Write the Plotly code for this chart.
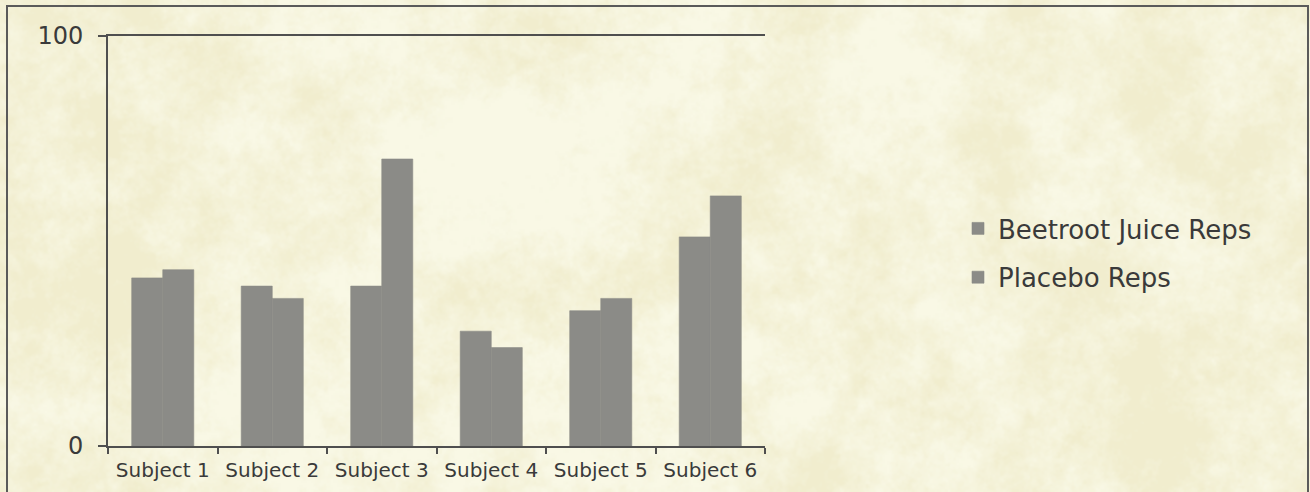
import base64
import struct
import zlib

import numpy as np
import plotly.graph_objects as go

# Repetitions per subject
subjects = ["Subject 1", "Subject 2", "Subject 3", "Subject 4", "Subject 5", "Subject 6"]
beetroot_reps = [41, 39, 39, 28, 33, 51]
placebo_reps = [43, 36, 70, 24, 36, 61]

W, H = 1310, 492
PLOT_L, PLOT_R, PLOT_T, PLOT_B = 108, 765, 36, 446
PW, PH = PLOT_R - PLOT_L, PLOT_B - PLOT_T

BAR_GREY = "#8b8b87"
AXIS_GREY = "#4f4f4f"
TEXT_GREY = "#3a3a3a"
FONT = "DejaVu Sans"


def png_data_uri(rgb):
    """Encode an HxWx3 uint8 array as a PNG data URI."""
    h, w, _ = rgb.shape
    raw = b"".join(b"\x00" + rgb[r].tobytes() for r in range(h))

    def chunk(tag, data):
        body = tag + data
        return struct.pack(">I", len(data)) + body + struct.pack(">I", zlib.crc32(body) & 0xFFFFFFFF)

    png = (b"\x89PNG\r\n\x1a\n"
           + chunk(b"IHDR", struct.pack(">IIBBBBB", w, h, 8, 2, 0, 0, 0))
           + chunk(b"IDAT", zlib.compress(raw, 9))
           + chunk(b"IEND", b""))
    return "data:image/png;base64," + base64.b64encode(png).decode()


def parchment(w, h, seed=11):
    """Soft, faintly mottled cream paper background."""
    rng = np.random.default_rng(seed)
    noise = rng.standard_normal((h, w))
    fy = np.fft.fftfreq(h)[:, None]
    fx = np.fft.fftfreq(w)[None, :]
    f = np.sqrt(fx ** 2 + fy ** 2)
    f[0, 0] = 1.0
    spec = np.fft.fft2(noise) / f ** 1.3
    spec[0, 0] = 0
    n = np.real(np.fft.ifft2(spec))
    n = (n - n.mean()) / n.std()
    base = np.array([246, 244, 220], dtype=float)
    tan = np.array([-2.5, -3.5, -7.5], dtype=float)
    img = base[None, None, :] + np.clip(n, -1.2, 1.8)[..., None] * tan[None, None, :]
    return np.clip(img, 0, 255).astype(np.uint8)


bar_style = dict(color=BAR_GREY, line=dict(color=BAR_GREY, width=0.6))

fig = go.Figure()
fig.add_trace(go.Bar(name="Beetroot Juice Reps", x=subjects, y=beetroot_reps,
                     marker=bar_style, legendgroup="a"))
fig.add_trace(go.Bar(name="Placebo Reps", x=subjects, y=placebo_reps,
                     marker=bar_style, legendgroup="b"))

# paper background texture, stretched over the whole figure
fig.add_layout_image(dict(
    source=png_data_uri(parchment(W // 2, H // 2)),
    xref="paper", yref="paper",
    x=-PLOT_L / PW, y=1 + PLOT_T / PH,
    sizex=W / PW, sizey=H / PH,
    xanchor="left", yanchor="top",
    sizing="stretch", layer="below",
))

# outer chart border
fig.add_shape(type="rect", xref="paper", yref="paper",
              x0=(7 - PLOT_L) / PW, x1=(1308 - PLOT_L) / PW,
              y0=(PLOT_B - 520) / PH, y1=(PLOT_B - 6) / PH,
              line=dict(color="#5a5a5a", width=2), layer="above")

fig.update_layout(
    width=W, height=H,
    margin=dict(l=PLOT_L, r=W - PLOT_R, t=PLOT_T, b=H - PLOT_B, autoexpand=False),
    paper_bgcolor="#f6f4dc",
    plot_bgcolor="rgba(0,0,0,0)",
    barmode="group",
    bargap=0.433,
    bargroupgap=0,
    font=dict(family=FONT, color=TEXT_GREY),
    showlegend=True,
    legend=dict(
        x=(958 - PLOT_L) / PW, xanchor="left",
        y=(PLOT_B - 205) / PH, yanchor="top",
        font=dict(family=FONT, size=26, color=TEXT_GREY),
        bgcolor="rgba(0,0,0,0)",
        traceorder="grouped",
        tracegroupgap=12,
    ),
    xaxis=dict(
        type="category",
        showline=True, linecolor=AXIS_GREY, linewidth=2, mirror=True,
        ticks="outside", tickson="boundaries", ticklen=6,
        tickcolor=AXIS_GREY, tickwidth=2,
        ticklabelstandoff=5,
        tickfont=dict(family=FONT, size=20, color=TEXT_GREY),
        showgrid=False,
    ),
    yaxis=dict(
        range=[0, 100],
        tickvals=[0, 100],
        showline=True, linecolor=AXIS_GREY, linewidth=2,
        ticks="outside", ticklen=8, tickcolor=AXIS_GREY, tickwidth=2,
        ticklabelstandoff=10,
        tickfont=dict(family=FONT, size=24, color=TEXT_GREY),
        showgrid=False,
        zeroline=False,
    ),
)

fig.write_html("out.html")
